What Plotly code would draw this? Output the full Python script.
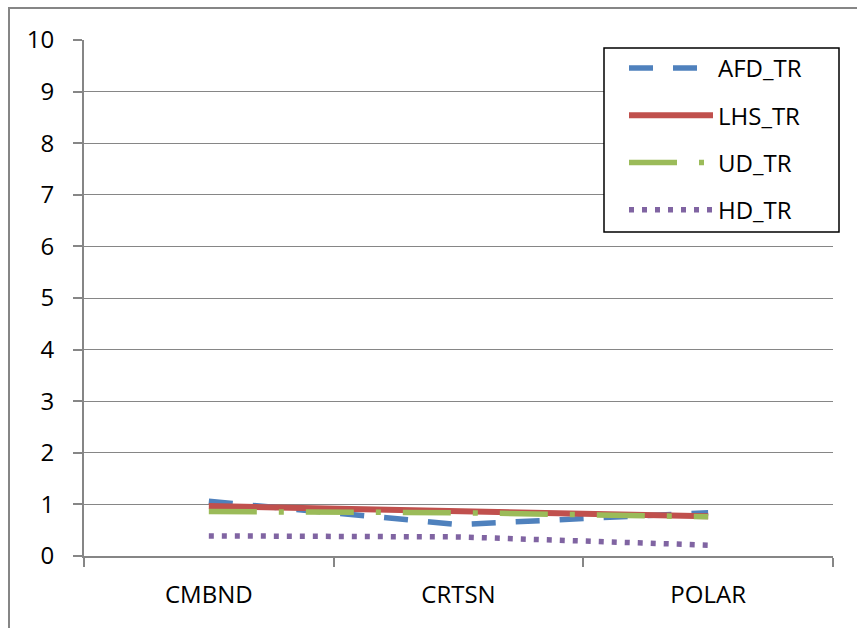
import plotly.graph_objects as go

# Test-case categories and the four TR series
categories = ["CMBND", "CRTSN", "POLAR"]
afd_tr = [1.06, 0.61, 0.84]
lhs_tr = [0.97, 0.87, 0.77]
ud_tr = [0.86, 0.84, 0.76]
hd_tr = [0.39, 0.37, 0.21]
y_ticks = list(range(0, 11))

GRAY = "#868686"
FONT = "Open Sans"

W, H = 857, 628
L, R, T, B = 84, 24, 40, 72
pw, ph = W - L - R, H - T - B


def px_to_paper_x(px):
    return (px - L) / pw


def px_to_paper_y(py):
    return (H - B - py) / ph


series = [
    ("AFD_TR", afd_tr, "#4F81BD", "24px,20px", 5.5),
    ("LHS_TR", lhs_tr, "#C0504D", "solid", 6),
    ("UD_TR", ud_tr, "#9BBB59", "48px,22px,5px,22px", 5.5),
    ("HD_TR", hd_tr, "#8064A2", "5px,8px", 5.5),
]

fig = go.Figure()
for name, vals, color, dash, width in series:
    fig.add_trace(
        go.Scatter(
            x=categories,
            y=vals,
            mode="lines",
            name=name,
            legendgroup=name,
            line=dict(color=color, dash=dash, width=width),
        )
    )

fig.update_layout(
    width=W,
    height=H,
    margin=dict(l=L, r=R, t=T, b=B),
    paper_bgcolor="white",
    plot_bgcolor="white",
    font=dict(family=FONT, size=24, color="black"),
    showlegend=True,
    legend=dict(
        x=px_to_paper_x(624),
        y=px_to_paper_y(46),
        xanchor="left",
        yanchor="top",
        bgcolor="rgba(0,0,0,0)",
        borderwidth=0,
        font=dict(family=FONT, size=24, color="black"),
        traceorder="grouped",
        tracegroupgap=13,
        itemwidth=84,
    ),
    xaxis=dict(
        type="category",
        range=[-0.5, 2.5],
        showline=True,
        linecolor=GRAY,
        linewidth=2,
        ticks="outside",
        tickson="boundaries",
        ticklen=9,
        tickcolor=GRAY,
        tickwidth=1.5,
        showgrid=False,
        zeroline=False,
        ticklabelstandoff=16,
        tickfont=dict(family=FONT, size=24, color="black"),
    ),
    yaxis=dict(
        range=[0, 10],
        tickvals=y_ticks,
        showline=True,
        linecolor=GRAY,
        linewidth=2,
        ticks="outside",
        ticklen=9,
        tickcolor=GRAY,
        tickwidth=1.5,
        showgrid=True,
        gridcolor=GRAY,
        gridwidth=1.4,
        zeroline=False,
        ticklabelstandoff=14,
        tickfont=dict(family=FONT, size=24, color="black"),
    ),
    shapes=[
        # outer chart border
        dict(
            type="rect",
            xref="paper",
            yref="paper",
            x0=px_to_paper_x(9),
            x1=px_to_paper_x(870),
            y0=px_to_paper_y(640),
            y1=px_to_paper_y(8),
            line=dict(color=GRAY, width=2),
            fillcolor="rgba(0,0,0,0)",
            layer="below",
        ),
        # legend frame
        dict(
            type="rect",
            xref="paper",
            yref="paper",
            x0=px_to_paper_x(604),
            x1=px_to_paper_x(839),
            y0=px_to_paper_y(232),
            y1=px_to_paper_y(48),
            line=dict(color="black", width=1.5),
            fillcolor="white",
            layer="above",
        ),
    ],
)

fig.write_html("out.html")
